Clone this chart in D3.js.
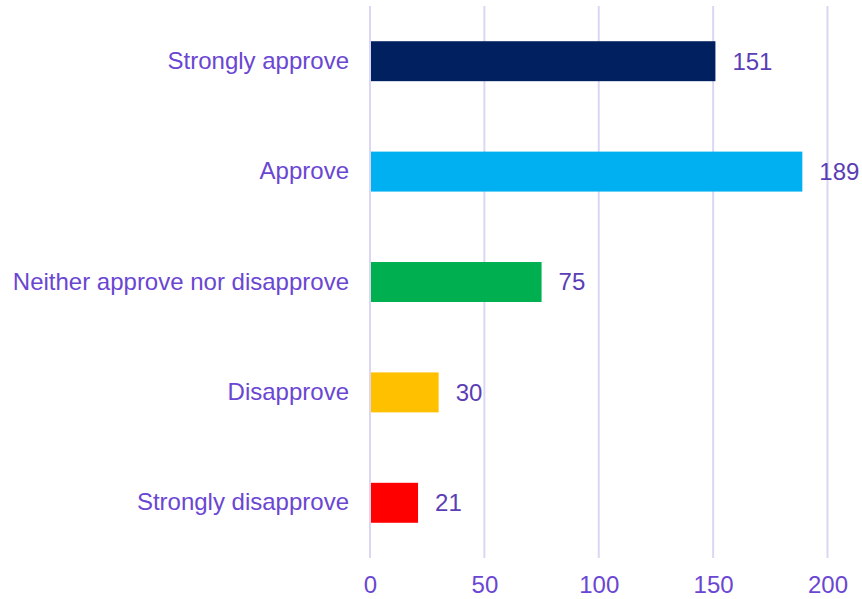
<!DOCTYPE html>
<html><head><meta charset="utf-8">
<script src="https://cdn.jsdelivr.net/npm/d3@7"></script>
<style>body{margin:0;background:#fff;}svg{display:block;}</style>
</head><body>
<svg id="chart" width="862" height="599"></svg>
<script>
const categories = ["Strongly approve","Approve","Neither approve nor disapprove","Disapprove","Strongly disapprove"];
const values = [151,189,75,30,21];
const barColors = ["#002060","#00b0f0","#00b050","#ffc000","#ff0000"];
const tickValues = [0,50,100,150,200];

const svg = d3.select("#chart");
const margin = {left:370, right:34.5, top:6, bottom:41};
const W = 862, H = 599;
const x = d3.scaleLinear().domain([0,200]).range([margin.left, W - margin.right]);
const y = d3.scaleBand().domain(categories).range([margin.top, H - margin.bottom]).paddingInner(0.638).paddingOuter(0.319);

const font = "'Liberation Sans', Arial, sans-serif";
const fs = 24;

// grid
svg.append("g").selectAll("line").data(tickValues).join("line")
  .attr("x1", d => x(d)).attr("x2", d => x(d))
  .attr("y1", margin.top).attr("y2", H - margin.bottom)
  .attr("stroke", "#ddd6f2").attr("stroke-width", 2);

// bars
svg.append("g").selectAll("rect").data(categories).join("rect")
  .attr("x", x(0) + 1)
  .attr("y", d => y(d))
  .attr("width", (d,i) => x(values[i]) - x(0) - 1)
  .attr("height", y.bandwidth())
  .attr("fill", (d,i) => barColors[i]);

// value labels
svg.append("g").selectAll("text").data(categories).join("text")
  .attr("x", (d,i) => x(values[i]) + 17)
  .attr("y", d => y(d) + y.bandwidth()/2)
  .attr("dy", "0.35em")
  .attr("font-family", font).attr("font-size", fs)
  .attr("fill", "#5b3db5")
  .text((d,i) => values[i]);

// y axis labels
const yAxis = d3.axisLeft(y).tickSize(0).tickPadding(21);
const gy = svg.append("g").attr("transform", `translate(${margin.left},0)`).call(yAxis);
gy.select(".domain").remove();
gy.selectAll("text").attr("font-family", font).attr("font-size", fs).attr("fill", "#6a46d2");

// x axis
const xAxis = d3.axisBottom(x).tickValues(tickValues).tickSize(0).tickPadding(18).tickFormat(d3.format("d"));
const gx = svg.append("g").attr("transform", `translate(0,${H - margin.bottom})`).call(xAxis);
gx.select(".domain").remove();
gx.selectAll("text").attr("font-family", font).attr("font-size", fs).attr("fill", "#6a46d2");
</script>
</body></html>
